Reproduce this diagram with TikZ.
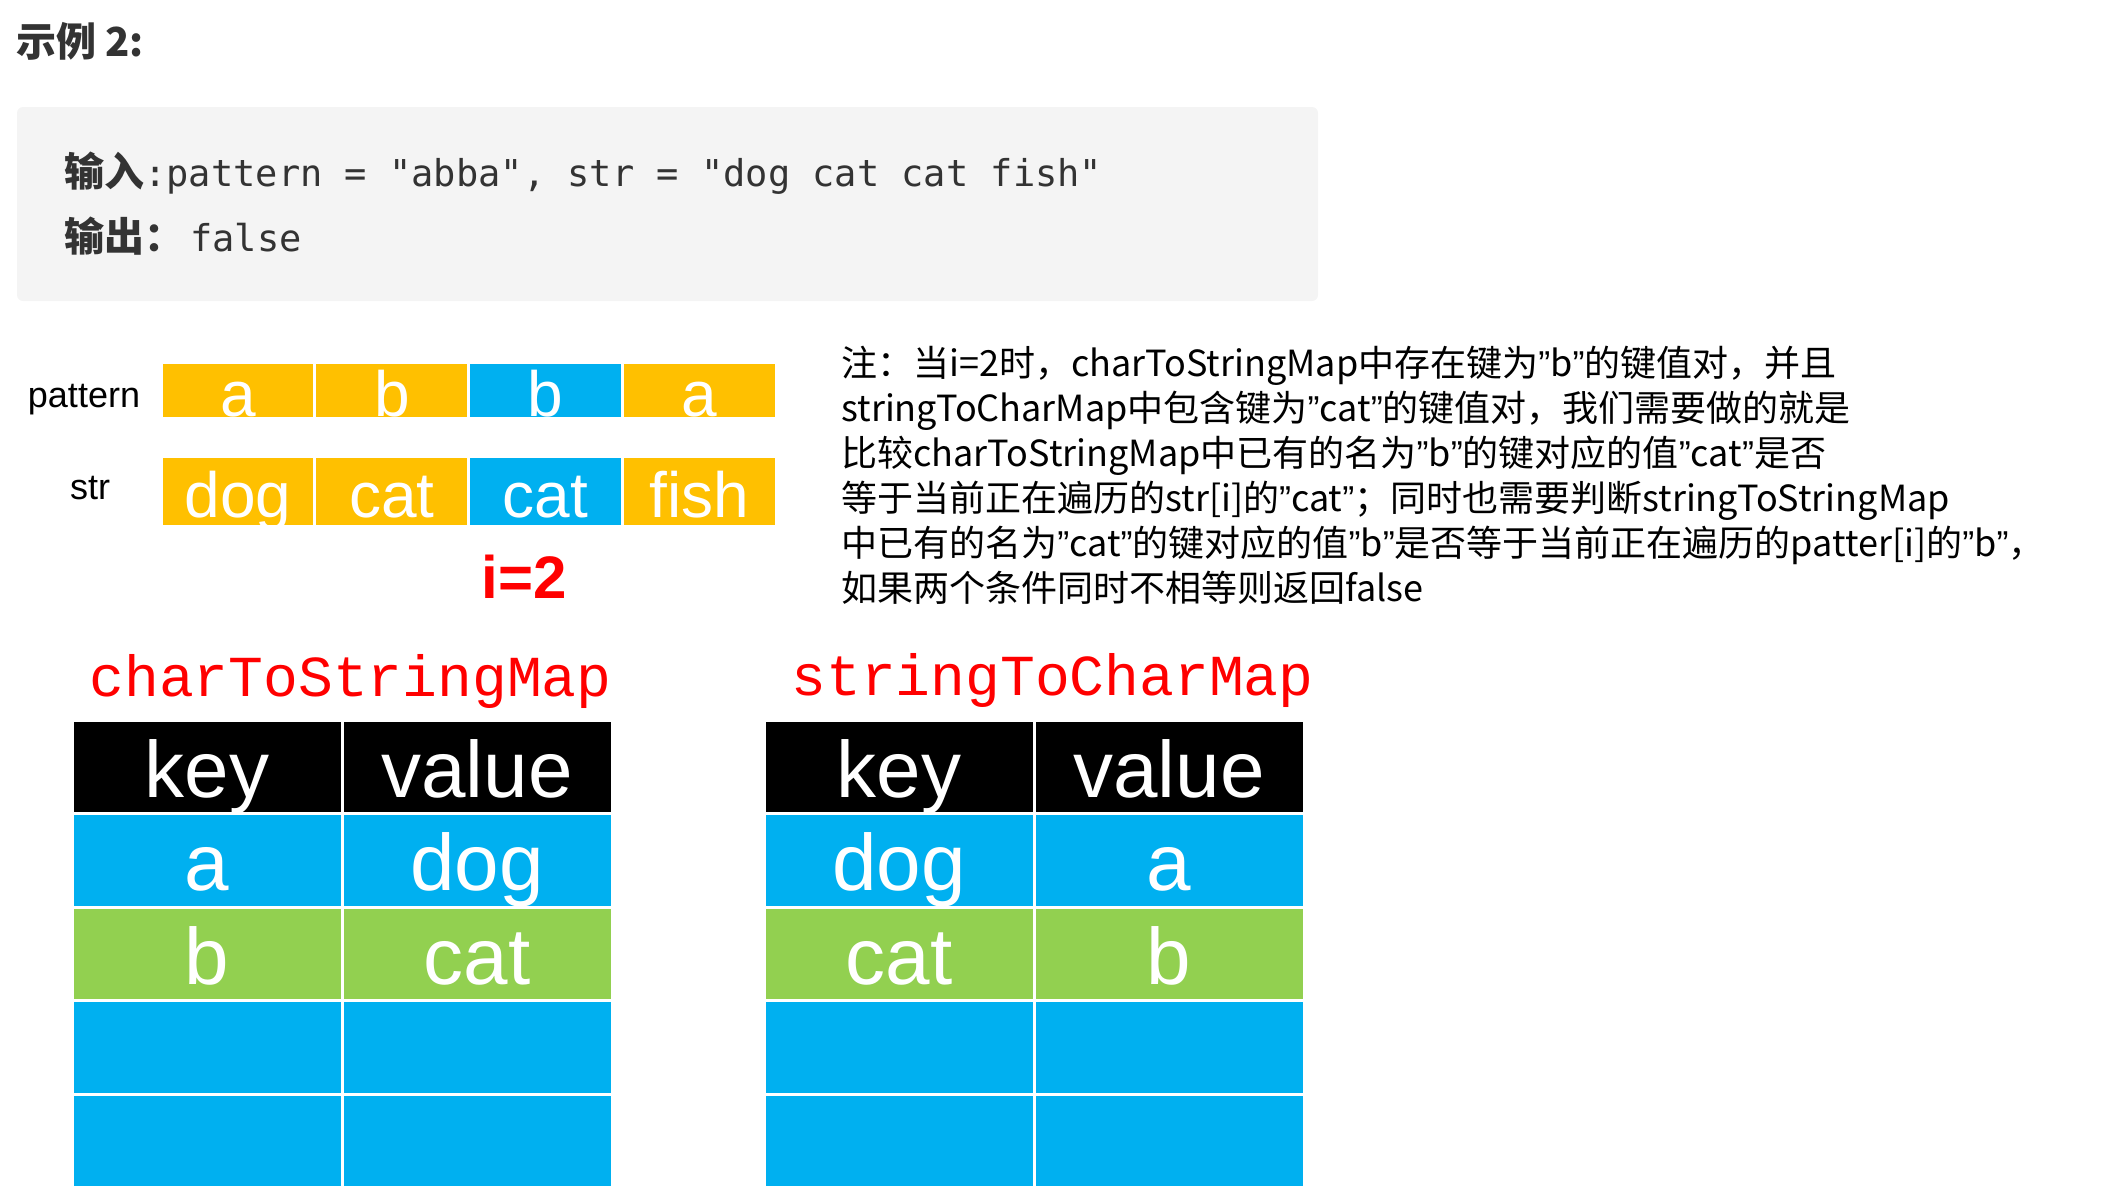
\documentclass[tikz,border=0pt]{standalone}
\usepackage{fontspec}
\setmainfont{Liberation Sans}
\newfontfamily\cjkfont{Noto Sans CJK SC}
\newfontfamily\codefont{DejaVu Sans Mono}
\newfontfamily\mapfont{Liberation Mono}
\usepackage{xcolor}
\usetikzlibrary{positioning}
\definecolor{cellorange}{HTML}{FFC000}
\definecolor{cellblue}{HTML}{00B0F0}
\definecolor{cellgreen}{HTML}{92D050}
\definecolor{boxgray}{HTML}{F4F4F4}
\definecolor{inkgray}{HTML}{333333}
\definecolor{inkred}{HTML}{FF0000}
\newcommand\boldcjk{\cjkfont\bfseries\fontsize{20}{24}\selectfont}
\newcommand\quo[1]{{\rmfamily ”}#1{\rmfamily ”}}
\tikzset{
  codeline/.style={anchor=base west,inner sep=0pt,text=inkgray,font=\codefont\fontsize{18.5}{22}\selectfont},
  rowlabel/.style={anchor=base,inner sep=0pt,font=\fontsize{18}{18}\selectfont},
  patcell/.style={rectangle,draw=white,line width=1.5pt,outer sep=0pt,inner sep=0pt,minimum width=76.9pt,minimum height=28pt,text=white,font=\fontsize{32}{32}\selectfont,text height=26pt,text depth=0pt},
  strcell/.style={patcell,minimum height=35pt},
  mapcell/.style={rectangle,draw=white,line width=1.5pt,outer sep=0pt,inner sep=0pt,fill=cellblue,minimum width=135pt,minimum height=46.75pt,text=white,font=\fontsize{40}{40}\selectfont,text height=30.5pt,text depth=0pt},
  headcell/.style={mapcell,fill=black},
  maptitle/.style={anchor=base west,inner sep=0pt,text=inkred,font=\mapfont\fontsize{29}{29}\selectfont},
}
\begin{document}
\begin{tikzpicture}[node distance=0pt,x=0.5pt,y=-0.5pt]
  \useasboundingbox (0,0) rectangle (2104,1189);
  % example heading and input box
  \node[anchor=base west,inner sep=0pt,text=inkgray,font=\cjkfont\bfseries\fontsize{20}{24}\selectfont] (heading) at (16,56) {示例 2:};
  \node[fill=boxgray,rounded corners=3pt,minimum width=650.5pt,minimum height=97pt,inner sep=0pt] (codebox) at (667.5,204) {};
  \node[codeline] (inputline) at (64,186) {{\boldcjk 输入}:pattern = "abba", str = "dog cat cat fish"};
  \node[codeline] (outputline) at (64,251) {{\boldcjk 输出：}\hspace{3pt}false};
  % pattern / str rows
  \node[rowlabel] (patlabel) at (84,407) {pattern};
  \node[rowlabel] (strlabel) at (90,499) {str};
  \node[patcell,fill=cellorange] (p1) at (238,390) {a};
  \node[patcell,fill=cellorange,right=of p1] (p2) {b};
  \node[patcell,fill=cellblue,right=of p2] (p3) {b};
  \node[patcell,fill=cellorange,right=of p3] (p4) {a};
  \node[strcell,fill=cellorange,below=19pt of p1] (s1) {dog};
  \node[strcell,fill=cellorange,right=of s1] (s2) {cat};
  \node[strcell,fill=cellblue,right=of s2] (s3) {cat};
  \node[strcell,fill=cellorange,right=of s3] (s4) {fish};
  \node[anchor=base,inner sep=0pt,text=inkred,font=\bfseries\fontsize{30}{30}\selectfont] (idx) at (524,598) {i=2};
  % note
  \node[anchor=north west,align=left,inner sep=0pt,font=\cjkfont\fontsize{18}{22.5}\selectfont] (note) at (841,346) {%
    注：当i=2时，charToStringMap中存在键为\quo{b}的键值对，并且\\
    stringToCharMap中包含键为\quo{cat}的键值对，我们需要做的就是\\
    比较charToStringMap中已有的名为\quo{b}的键对应的值\quo{cat}是否\\
    等于当前正在遍历的str[i]的\quo{cat}；同时也需要判断stringToStringMap\\
    中已有的名为\quo{cat}的键对应的值\quo{b}是否等于当前正在遍历的patter[i]的\quo{b}，\\
    如果两个条件同时不相等则返回false};
  % charToStringMap
  \node[maptitle] (lefttitle) at (89,696) {charToStringMap};
  \node[headcell] (lk0) at (207,766.75) {key};
  \node[headcell,right=of lk0] (lv0) {value};
  \node[mapcell,below=of lk0] (lk1) {a};
  \node[mapcell,below=of lv0] (lv1) {dog};
  \node[mapcell,fill=cellgreen,below=of lk1] (lk2) {b};
  \node[mapcell,fill=cellgreen,below=of lv1] (lv2) {cat};
  \node[mapcell,below=of lk2] (lk3) {};
  \node[mapcell,below=of lv2] (lv3) {};
  \node[mapcell,below=of lk3] (lk4) {};
  \node[mapcell,below=of lv3] (lv4) {};
  % stringToCharMap
  \node[maptitle] (righttitle) at (791,695) {stringToCharMap};
  \node[headcell] (rk0) at (899,766.75) {key};
  \node[headcell,right=of rk0] (rv0) {value};
  \node[mapcell,below=of rk0] (rk1) {dog};
  \node[mapcell,below=of rv0] (rv1) {a};
  \node[mapcell,fill=cellgreen,below=of rk1] (rk2) {cat};
  \node[mapcell,fill=cellgreen,below=of rv1] (rv2) {b};
  \node[mapcell,below=of rk2] (rk3) {};
  \node[mapcell,below=of rv2] (rv3) {};
  \node[mapcell,below=of rk3] (rk4) {};
  \node[mapcell,below=of rv3] (rv4) {};
\end{tikzpicture}
\end{document}
